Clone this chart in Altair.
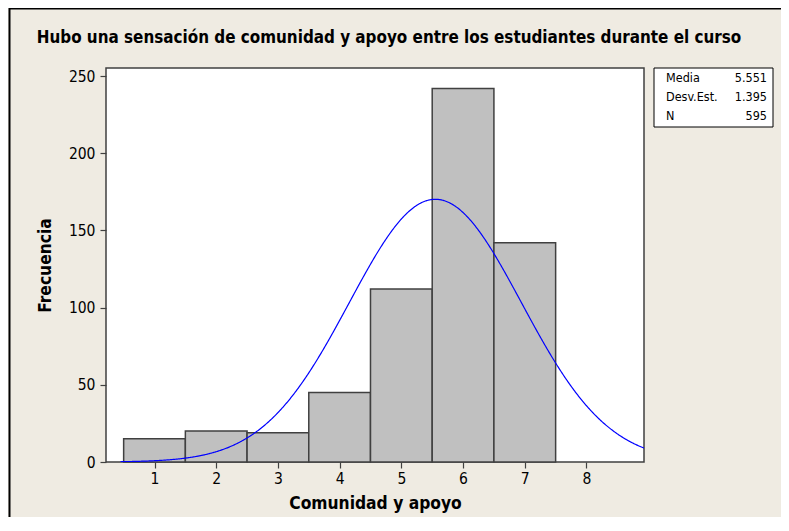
import altair as alt
import pandas as pd

# ---- data ----
bins = [1, 2, 3, 4, 5, 6, 7]
counts = [15, 20, 19, 45, 112, 242, 142]
stat_labels = ["Media", "Desv.Est.", "N"]
stat_values = ["5.551", "1.395", "595"]
fit_mean = 5.551
fit_sd = 1.395
fit_n = 595
bin_width = 1
x_ticks = [1, 2, 3, 4, 5, 6, 7, 8]
y_ticks = [0, 50, 100, 150, 200, 250]
title_text = ["Hubo una sensación de comunidad y apoyo entre los estudiantes durante el curso"]
x_title = "Comunidad y apoyo"
y_title = "Frecuencia"

XDOM = [0.214, 8.932]
YDOM = [0, 255.2]
W, H = 538, 394
FONT = "DejaVu Sans Condensed"
BG = "#EFEBE2"
DARK = "#404040"

xs = alt.Scale(domain=XDOM, nice=False, zero=False)
ys = alt.Scale(domain=YDOM, nice=False, zero=True)

bars_df = pd.DataFrame({"valor": bins, "frecuencia": counts})
bars = (
    alt.Chart(bars_df)
    .transform_calculate(x0=f"datum.valor - {bin_width}/2", x1=f"datum.valor + {bin_width}/2")
    .mark_rect(fill="#C0C0C0", stroke=DARK, strokeWidth=1.5)
    .encode(
        x=alt.X("x0:Q", scale=xs,
                axis=alt.Axis(values=x_ticks, title=x_title, format="d", labelPadding=3,
                              titleY=46, titleBaseline="alphabetic")),
        x2="x1:Q",
        y=alt.Y("frecuencia:Q", scale=ys,
                axis=alt.Axis(values=y_ticks, title=y_title, format="d", labelPadding=5,
                              titleX=-61, titleY=H / 2, titleBaseline="middle",
                              titleAngle=270)),
        y2=alt.datum(0),
    )
)

curve = (
    alt.Chart(alt.sequence(0.45, 8.95, 0.01, as_="xv"))
    .transform_calculate(
        yv=f"{fit_n}*{bin_width}*exp(-0.5*pow((datum.xv-{fit_mean})/{fit_sd},2))/({fit_sd}*sqrt(2*PI))"
    )
    .mark_line(color="#0000FF", strokeWidth=1.2, clip=True)
    .encode(x=alt.X("xv:Q", scale=xs), y=alt.Y("yv:Q", scale=ys, axis=None))
)

one = pd.DataFrame({"k": [0]})
box = alt.Chart(one).mark_rect(fill="white", stroke="black", strokeWidth=1).encode(
    x=alt.value(548), x2=alt.value(667), y=alt.value(0), y2=alt.value(59)
)

stats_df = pd.DataFrame({"etiqueta": stat_labels, "valor": stat_values})
sbase = (
    alt.Chart(stats_df)
    .transform_window(fila="row_number()")
    .transform_calculate(py="10 + 19*(datum.fila-1)")
)
lbl = sbase.mark_text(align="left", baseline="middle", fontSize=12.5, font=FONT, color="black").encode(
    x=alt.value(560), y=alt.Y("py:Q", scale=None, axis=None), text="etiqueta:N"
)
val = sbase.mark_text(align="right", baseline="middle", fontSize=12.5, font=FONT, color="black").encode(
    x=alt.value(661), y=alt.Y("py:Q", scale=None, axis=None), text="valor:N"
)

title_df = pd.DataFrame({"t": title_text})
title = alt.Chart(title_df).mark_text(
    align="center", baseline="alphabetic", font=FONT, fontSize=16.9, fontWeight="bold", color="black"
).encode(x=alt.value(W / 2 + 14), y=alt.value(-25), text="t:N")

left_border = alt.Chart(one).mark_rule(color="black", strokeWidth=2).encode(
    x=alt.value(-96.5), y=alt.value(-60), y2=alt.value(H + 55)
)
top_border = alt.Chart(one).mark_rule(color="black", strokeWidth=2).encode(
    y=alt.value(-59.5), x=alt.value(-97), x2=alt.value(W + 137)
)

chart = (
    alt.layer(bars, curve, box, lbl, val, title, left_border, top_border)
    .resolve_scale(y="independent")
    .properties(
        width=W,
        height=H,
        autosize=alt.AutoSizeParams(type="none"),
        padding={"left": 98, "top": 60, "right": 137, "bottom": 55},
        background=BG,
    )
    .configure_view(stroke=DARK, strokeWidth=1.5, fill="white")
    .configure_axis(
        domain=False, grid=False, ticks=True, tickColor=DARK, tickSize=6, tickWidth=1.2,
        labelFont=FONT, labelFontSize=15.5, labelColor="black",
        titleFont=FONT, titleFontSize=17.3, titleFontWeight="bold", titleColor="black",
    )
)

chart.save("out.html", embed_options={"renderer": "svg", "actions": False})
